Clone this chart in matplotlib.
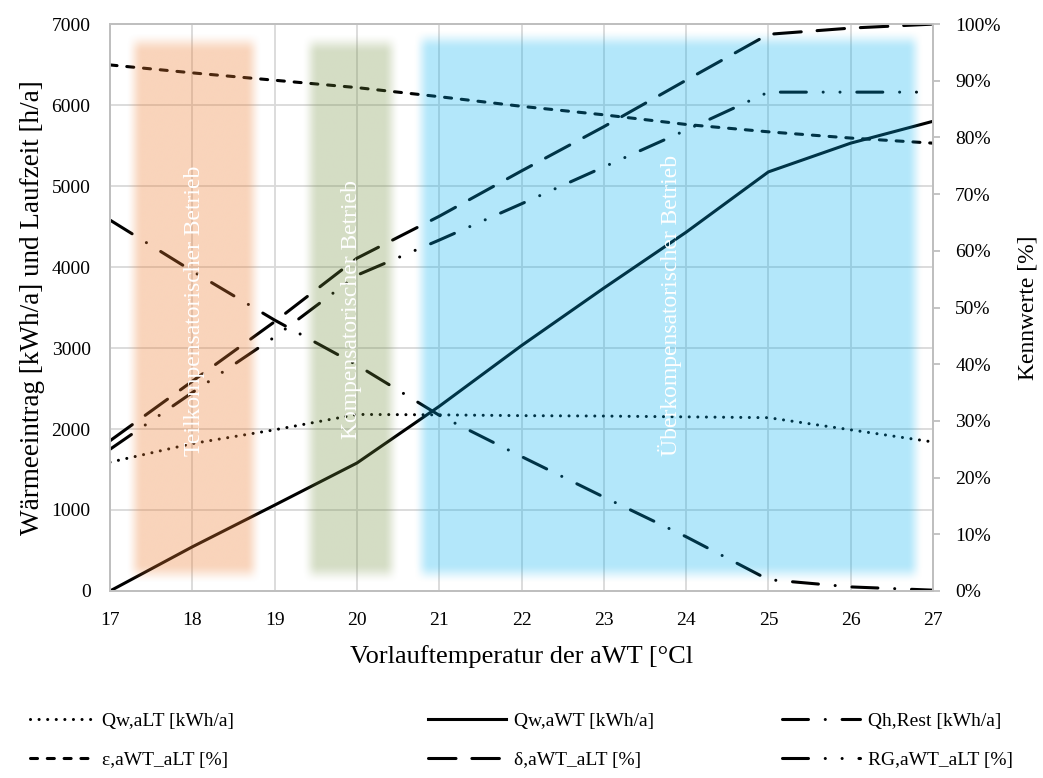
import numpy as np
import matplotlib.pyplot as plt
from matplotlib.lines import Line2D
from matplotlib.ticker import FuncFormatter

plt.rcParams['font.family'] = ['Liberation Serif', 'DejaVu Serif']

# data
temps = [17, 18, 19, 20, 21, 22, 23, 24, 25, 26, 27]
qw_alt = [1590, 1820, 1990, 2180, 2175, 2165, 2160, 2150, 2140, 1990, 1840]
qw_awt = [0, 545, 1060, 1580, 2280, 3030, 3740, 4430, 5175, 5530, 5800]
qh_rest = [4580, 3950, 3345, 2790, 2170, 1660, 1160, 670, 140, 50, 10]
eps_pct = [92.8, 91.4, 90.1, 88.8, 87.2, 85.5, 84.0, 82.3, 81.0, 79.9, 79.0]
delta_pct = [26.5, 37.0, 47.5, 58.7, 66.1, 74.1, 81.9, 90.1, 98.2, 99.3, 100.0]
rg_pct = [25.0, 35.0, 44.8, 55.7, 61.9, 68.3, 74.8, 81.3, 88.0, 88.0, 88.0]

labels = ["Qw,aLT [kWh/a]", "Qw,aWT [kWh/a]", "Qh,Rest [kWh/a]",
          "ε,aWT_aLT [%]", "δ,aWT_aLT [%]", "RG,aWT_aLT [%]"]
zones = ["Teilkompensatorischer Betrieb", "Kompensatorischer Betrieb",
         "Überkompensatorischer Betrieb"]

LW = 2.2
styles = {
    "dot": (0, (0.01, 2.8)),
    "solid": "-",
    "dashdot": (0, (8.5, 5.5, 0.01, 5.5)),
    "dash": (0, (2.3, 3.2)),
    "longdash": (0, (9.0, 5.2)),
    "dashdotdot": (0, (8.5, 5.5, 0.01, 5.5, 0.01, 5.5)),
}
order = ["dot", "solid", "dashdot", "dash", "longdash", "dashdotdot"]


def soft_box(ax, x0, x1, y0, y1, rgb, alpha, fx, fy):
    xs = np.linspace(x0, x1, 600)
    ys = np.linspace(y0, y1, 600)
    wx = np.clip(np.minimum(xs - x0, x1 - xs) / fx, 0, 1)
    wy = np.clip(np.minimum(ys - y0, y1 - ys) / fy, 0, 1)
    wx = wx * wx * (3 - 2 * wx)
    wy = wy * wy * (3 - 2 * wy)
    img = np.zeros((len(ys), len(xs), 4))
    img[..., :3] = np.array(rgb) / 255.0
    img[..., 3] = alpha * np.outer(wy, wx)
    ax.imshow(img, extent=(x0, x1, y0, y1), origin='lower', aspect='auto',
              interpolation='bilinear', zorder=5)


fig = plt.figure(figsize=(10.43, 7.78), dpi=100)
ax = fig.add_axes([0.1055, 0.2404, 0.789, 0.7286])
ax2 = ax.twinx()

grid_c = '#d9d9d9'
kw = dict(color='black', lw=LW, dash_capstyle='round', solid_capstyle='round')
ax.plot(temps, qw_alt, ls=styles["dot"], **kw)
ax.plot(temps, qw_awt, ls=styles["solid"], **kw)
ax.plot(temps, qh_rest, ls=styles["dashdot"], **kw)
ax2.plot(temps, eps_pct, ls=styles["dash"], **kw)
ax2.plot(temps, delta_pct, ls=styles["longdash"], **kw)
ax2.plot(temps, rg_pct, ls=styles["dashdotdot"], **kw)

# shaded operating zones, drawn on top of the lines
soft_box(ax2, 17.2, 18.85, 1.2, 98.5, (237, 125, 49), 0.33, 0.2, 3.5)
soft_box(ax2, 19.33, 20.52, 1.2, 98.3, (112, 141, 60), 0.30, 0.2, 3.5)
soft_box(ax2, 20.68, 26.88, 1.2, 99.0, (0, 176, 240), 0.30, 0.2, 3.5)

for xpos, ypos, txt in zip([18.03, 19.94, 23.8], [49.4, 49.6, 50.3], zones):
    ax2.text(xpos, ypos, txt, rotation=90, ha='center', va='center',
             color='white', fontsize=17, zorder=6)

ax.set_xlim(17, 27)
ax.set_ylim(0, 7000)
ax2.set_ylim(0, 100)
ax.set_xticks(temps)
ax.set_yticks(range(0, 7001, 1000))
ax2.set_yticks(range(0, 101, 10))
ax2.yaxis.set_major_formatter(FuncFormatter(lambda v, p: f"{v:.0f}%"))
ax.grid(True, color=grid_c, lw=1.3)
ax.set_axisbelow(True)
for a in (ax, ax2):
    for s in a.spines.values():
        s.set_color('#bfbfbf')
        s.set_linewidth(1.3)
ax.tick_params(axis='x', length=0, labelsize=14, pad=15)
ax.tick_params(axis='y', length=0, labelsize=14, pad=14)
ax2.tick_params(axis='y', length=5, color='#bfbfbf', width=1.3,
                labelsize=14, pad=11)
ax.set_xlabel("Vorlauftemperatur der aWT [°Cl", fontsize=19, labelpad=12)
ax.set_ylabel("Wärmeeintrag [kWh/a] und Laufzeit [h/a]", fontsize=19.5,
              labelpad=5)
ax2.set_ylabel("Kennwerte [%]", fontsize=17, labelpad=12)

# legend: three single-column blocks laid out like the reference
handles = [Line2D([], [], color='black', lw=LW, ls=styles[k],
                  dash_capstyle='round') for k in order]
col_x = [30 / 1043, 428 / 1043, 782 / 1043]
col_hl = [3.3, 4.0, 4.0]
for c in range(3):
    leg = fig.legend([handles[c], handles[c + 3]], [labels[c], labels[c + 3]],
                     loc='lower left', bbox_to_anchor=(col_x[c], 0.012),
                     frameon=False, handlelength=col_hl[c], fontsize=14,
                     labelspacing=1.1, handletextpad=0.4, borderpad=0,
                     borderaxespad=0)

fig.savefig("out.png", dpi=100)
